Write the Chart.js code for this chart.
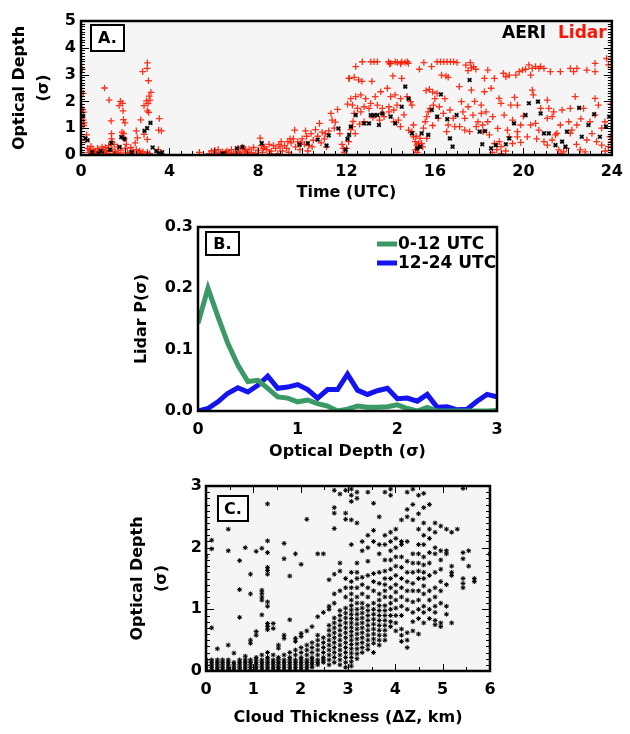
<!DOCTYPE html>
<html>
<head>
<meta charset="utf-8">
<script src="https://cdn.jsdelivr.net/npm/chart.js@4.4.0/dist/chart.umd.min.js"></script>
<style>
  body { margin: 0; background: #fff; width: 630px; height: 734px; position: relative; overflow: hidden; }
  canvas { position: absolute; left: 0; }
</style>
</head>
<body>
<canvas id="chartA" width="630" height="205" style="top:0px"></canvas>
<canvas id="chartB" width="630" height="265" style="top:205px"></canvas>
<canvas id="chartC" width="630" height="264" style="top:470px"></canvas>
<script>
// panel A : optical depth vs time, [hour UTC, sigma]
var lidarEarly = [
  [0.05,3.2],[0.1,2.3],[0.08,1.7],[0.12,1.6],[0.1,1.3],[0.15,1.2],[0.12,1.1],[0.25,0.75],[0.2,0.55],
  [0.3,0.25],[0.35,0.1],[0.4,0.18],[0.5,0.05],[0.55,0.2],[0.65,0.1],[0.7,0.02],[0.8,0.15],[0.9,0.05],
  [1.0,0.2],[1.05,0.1],[1.1,0.28],[1.2,0.05],[1.3,0.15],[1.4,0.22],[1.45,0.05],[1.55,0.12],[1.65,0.3],
  [1.7,0.08],[1.8,0.18],[1.9,0.02],[2.0,0.25],[2.1,0.1],[2.2,0.05],[2.3,0.15],[2.4,0.02],[2.5,0.2],
  [2.6,0.1],[2.7,0.05],[2.8,0.12],[2.9,0.02],[3.0,0.1],[3.6,0.02],[0.45,0.32],[0.95,0.3],[1.25,0.35],
  [1.5,0.4],[2.05,0.4],[0.6,0.12],[0.75,0.25],[1.15,0.15],[1.6,0.05],[2.25,0.28],[2.65,0.15],[3.1,0.05],
  [1.06,2.5],[1.27,2.05],[1.36,1.27],[1.38,0.8],[1.38,0.6],[1.4,0.5],[1.78,2.0],[1.88,1.93],[1.72,1.84],
  [1.9,1.65],[1.92,1.32],[1.99,1.2],[1.85,0.85],[1.93,0.8],[1.96,0.6],[2.5,0.9],[2.55,0.64],[2.45,0.45],
  [2.7,1.31],[2.79,3.11],[2.85,1.84],[2.85,0.77],[2.96,2.02],[2.99,3.23],[3.0,3.44],[3.0,1.65],[3.0,0.58],
  [3.03,1.92],[3.05,2.77],[3.06,1.59],[3.08,2.2],[3.12,2.05],[3.16,2.34],[3.54,1.36],[3.51,0.93],[3.64,0.9],
  [3.5,0.2],[5.35,0.1]
];
var lidarMorning = [
  [5.8,0.05],[5.9,0.15],[6.0,0.02],[6.1,0.1],[6.2,0.2],[6.3,0.05],[6.4,0.12],[6.5,0.02],[6.6,0.15],
  [6.7,0.08],[6.8,0.2],[6.9,0.05],[7.0,0.12],[7.1,0.25],[7.2,0.1],[7.3,0.3],[7.4,0.15],[7.5,0.05],
  [7.6,0.22],[7.7,0.1],[7.8,0.28],[7.9,0.05],[8.0,0.18],[8.1,0.63],[8.15,0.35],[8.2,0.1],[8.3,0.3],
  [8.4,0.2],[8.5,0.4],[8.6,0.15],[8.7,0.35],[8.8,0.25],[8.9,0.05],[9.0,0.3],[9.05,0.5],[9.1,0.15],
  [9.2,0.35],[9.3,0.25],[9.4,0.1],[9.5,0.45],[9.6,0.6],[9.66,0.93],[9.7,0.3],[9.8,0.5],[9.9,0.2],
  [10.0,0.6],[10.1,0.4],[10.15,0.9],[10.2,0.7],[10.3,0.35],[10.4,0.8],[10.5,0.55],[10.6,0.95],[10.7,0.7],
  [10.78,1.18],[10.85,0.45],[10.9,0.85],[11.0,0.6],[11.1,0.3],[11.2,0.9],[11.3,1.55],[11.35,1.3],
  [11.5,1.23],[11.6,1.7],[11.7,0.8],[11.8,0.4],[11.9,0.1],[12.0,0.25],[12.05,1.9],[12.12,2.86],[12.1,0.5],
  [10.25,0.15],[8.55,0.05],[9.45,0.6],[6.05,0.18],[6.55,0.1],[7.15,0.05],[7.45,0.2],[8.25,0.25],[8.95,0.4],
  [9.35,0.5],[9.95,0.45],[10.45,0.3],[11.05,0.8],[11.45,1.0],[11.85,0.25]
];
var lidarAfternoon = [
  [12.42,3.3],[12.72,3.48],[13.1,3.48],[13.25,3.48],[13.4,3.48],[13.9,3.48],[14.3,3.45],[14.45,3.4],
  [14.5,3.48],[14.65,3.45],[14.75,3.48],[14.8,3.42],[15.5,3.45],[15.85,3.3],[16.1,3.48],[16.25,3.48],
  [16.4,3.48],[16.55,3.48],[16.7,3.48],[16.85,3.48],[17.0,3.45],[17.4,3.35],[17.6,3.45],[17.65,3.25],
  [17.75,3.3],[17.5,3.15],[17.85,3.2],[14.0,3.42],[14.2,3.48],[13.95,3.4],
  [12.12,2.86],[12.35,2.9],[12.55,2.8],[12.7,2.75],[13.15,2.75],[14.5,2.86],[15.6,2.4],[15.75,2.45],
  [15.9,2.35],[16.3,2.98],[16.5,2.95],[16.6,2.9],[17.1,2.55],[17.65,2.42],[14.1,2.95],[15.3,3.2],
  [12.2,2.1],[12.42,2.18],[12.65,2.24],[12.87,2.1],[13.1,1.93],[13.3,2.18],[13.55,2.36],[13.85,2.49],
  [14.0,2.18],[14.2,2.24],[14.45,2.1],[14.74,2.18],[14.9,1.99],[14.96,1.86],[12.27,1.86],[12.5,1.74],
  [12.8,1.8],[13.02,1.74],[13.4,1.86],[13.62,1.74],[13.92,1.8],[14.14,1.68],[14.29,1.86],
  [12.35,1.55],[12.65,1.61],[13.62,1.55],[13.92,1.61],[13.7,1.43],[14.14,1.24],[12.8,1.24],[12.27,1.06],
  [14.44,1.06],[12.2,0.95],[12.3,1.25],[12.4,0.8],[12.6,1.15],[13.2,1.4],[13.5,1.3],[14.6,1.5],[14.35,1.3],
  [14.96,0.87],[15.03,0.68],[15.11,0.5],[15.18,0.37],[15.26,0.43],[15.33,0.62],[15.48,1.0],[15.56,1.24],
  [15.63,1.43],[15.7,1.61],[15.78,1.74],[15.93,1.86],[16.0,2.1],[16.15,1.37],[16.38,1.55],[16.68,1.68],
  [16.83,1.37],[17.2,1.99],[17.27,1.61],[17.35,1.37],[17.5,1.8],[17.72,1.49],[17.95,1.24],[18.1,1.55],
  [18.17,0.87],[17.87,1.06],[16.53,0.87],[16.6,1.12],[16.9,1.06],[17.12,1.06],[17.35,0.93],[17.57,0.87],
  [15.63,0.62],[15.4,0.43],[15.03,1.12],[14.81,0.93],[15.11,0.19],[15.2,0.1],[15.25,0.25],[15.45,0.3],
  [15.15,0.7],[16.2,1.8],[16.45,2.1],[16.1,2.3],[17.8,2.0],[15.9,1.1]
];
var lidarEvening = [
  [18.39,3.17],[18.69,2.86],[18.24,2.86],[19.21,2.92],[19.36,2.98],[19.66,2.98],[19.81,3.11],[19.96,3.17],
  [20.25,3.36],[20.4,3.23],[20.55,3.3],[20.7,3.23],[20.78,3.3],[20.93,3.23],[20.33,2.98],[21.22,3.11],
  [21.67,3.11],[22.12,3.23],[22.27,3.11],[22.42,3.23],[22.87,3.17],[23.24,3.42],[23.24,3.11],[23.76,3.6],
  [23.84,3.36],[19.1,3.05],[20.1,3.2],
  [18.54,2.49],[18.24,2.36],[18.9,2.11],[18.99,1.93],[19.43,1.86],[19.73,1.86],[20.4,2.42],[20.45,2.24],
  [21.08,2.05],[20.78,1.74],[21.15,1.74],[21.37,1.61],[21.75,1.68],[22.12,1.74],[22.34,2.18],[22.72,1.74],
  [23.24,2.11],[23.39,1.86],[18.09,1.86],[18.31,1.61],[19.6,2.15],[23.95,1.9],
  [18.39,1.24],[18.61,1.43],[19.13,1.49],[19.51,1.3],[21.08,1.37],[21.3,1.43],[21.67,1.12],[19.88,1.12],
  [20.33,1.12],[22.05,1.24],[22.42,1.12],[23.24,1.49],[23.54,1.0],[23.69,1.24],[23.01,1.24],[18.16,1.12],
  [18.84,0.99],[19.28,0.93],[19.73,0.87],[20.55,1.18],[20.7,0.93],[21.52,0.81],[20.0,1.45],[22.6,1.35],
  [18.46,0.75],[18.69,0.43],[18.91,0.5],[18.99,0.31],[19.36,0.68],[19.51,0.43],[19.73,0.68],[20.93,0.5],
  [21.08,0.37],[21.3,0.56],[21.6,0.19],[21.82,0.12],[21.45,0.75],[22.12,0.81],[22.57,0.19],[22.79,0.12],
  [22.87,0.56],[23.54,0.37],[23.84,0.31],[23.91,0.68],[20.18,0.68],[19.88,0.47],[22.19,0.93],[23.31,0.5],
  [18.6,0.1],[18.8,0.2],[19.0,0.05],[19.2,0.15],[21.7,0.05],[21.95,0.25],[23.7,0.15],[24.0,0.5],
  [20.6,0.6],[22.4,0.4],[23.1,0.8]
];
var aeri = [
  [0.2,0.62],[0.3,0.55],[0.1,1.45],[0.5,0.1],[0.8,0.05],[0.9,0.15],[1.3,0.2],[1.37,0.45],[1.75,0.3],
  [1.82,0.67],[1.97,0.6],[2.3,0.1],[2.87,0.9],[2.99,1.0],[3.14,1.2],[3.24,0.28],[3.4,0.15],[3.5,0.05],
  [3.67,0.1],[6.4,0.05],[7.05,0.25],[7.3,0.3],[8.17,0.44],[9.88,0.39],[10.25,0.44],[10.7,0.57],[11.1,0.35],
  [11.2,0.73],[11.64,0.99],[11.97,0.2],[12.05,0.6],
  [12.12,0.75],[12.2,1.06],[12.42,1.49],[12.8,1.18],[13.02,1.18],[13.1,1.49],[13.25,1.49],[13.4,1.49],
  [13.47,1.12],[13.62,1.55],[14.0,1.43],[14.21,1.18],[14.5,1.8],[14.66,2.55],[14.81,2.1],[14.96,0.81],
  [15.2,0.25],[15.33,0.31],[15.4,0.81],[15.7,0.75],[15.86,1.68],[16.1,1.43],[16.27,2.26],[16.56,1.34],
  [16.68,0.62],[16.8,0.31],[16.98,1.49],[17.57,2.8],[18.02,0.87],[18.14,0.4],[18.27,0.89],[18.54,0.25],
  [18.76,0.37],[19.21,0.4],[19.36,0.62],[19.58,1.18],[20.1,1.49],[20.25,1.93],[20.66,1.99],[20.78,1.55],
  [20.93,0.81],[21.15,0.81],[21.45,0.37],[21.75,0.5],[21.9,0.31],[21.97,0.87],[22.52,1.76],[22.64,0.68],
  [22.94,1.12],[23.2,1.52],[23.46,0.68],[23.73,1.06],[23.88,1.43]
];

// panel B : lidar probability of optical depth
var depthBins = [0,0.1,0.2,0.3,0.4,0.5,0.6,0.7,0.8,0.9,1.0,1.1,1.2,1.3,1.4,1.5,1.6,1.7,1.8,1.9,2.0,
                 2.1,2.2,2.3,2.4,2.5,2.6,2.7,2.8,2.9,3.0];
var probEarly = [0.143,0.2,0.154,0.11,0.075,0.048,0.05,0.037,0.023,0.021,0.015,0.018,0.012,0.008,0.0,
                 0.003,0.008,0.006,0.006,0.007,0.01,0.004,0.0,0.006,0.0,0.0,0.0,0.0,0.0,0.0,0.001];
var probLate = [0.0,0.004,0.015,0.029,0.038,0.031,0.042,0.057,0.037,0.039,0.043,0.035,0.021,0.035,0.035,
                0.06,0.034,0.027,0.033,0.037,0.02,0.021,0.016,0.027,0.006,0.007,0.002,0.003,0.016,0.027,0.023];

// panel C : optical depth by cloud thickness column (km)
var thickCols = [0,0.12,0.24,0.35,0.47,0.59,0.71,0.83,0.94,1.06,1.18,1.3,1.42,1.53,1.65,1.77,1.89,2.01,
                 2.13,2.24,2.36,2.48,2.6,2.71,2.83,2.95,3.07,3.19,3.3,3.42,3.54,3.66,3.78,3.9,4.01,4.13,
                 4.25,4.37,4.49,4.6,4.72,4.84,4.96,5.08,5.19,5.31,5.43,5.55,5.67,6.0];
var depthCols = [
  [0.02,0.06,0.1,0.14,0.18,1.85],
  [0.02,0.06,0.1,0.14,0.18,0.7,1.98,2.12],
  [0.02,0.06,0.1,0.14,0.18,0.36],
  [0.02,0.06,0.1,0.14,0.18],
  [0.02,0.06,0.1,0.14,0.18,0.42,1.95,2.3],
  [0.02,0.06,0.1,0.14,0.29],
  [0.02,0.06,0.1,0.14,0.18,0.87,1.32,1.79],
  [0.02,0.06,0.1,0.14,0.18,0.24,2.0],
  [0.02,0.06,0.1,0.14,0.18,0.45,0.5,1.25,1.57],
  [0.02,0.06,0.1,0.14,0.18,0.22,0.58,0.64,1.94],
  [0.02,0.06,0.1,0.14,0.18,0.26,0.91,1.15,1.2,1.26,1.31,1.99],
  [0.02,0.06,0.1,0.14,0.18,0.22,0.3,0.67,0.72,0.77,1.05,1.12,1.57,1.63,1.68,1.92,2.11,2.71],
  [0.02,0.06,0.1,0.14,0.18,0.26,0.69,0.77],
  [0.02,0.06,0.1,0.14,0.18,0.22,0.37,0.42],
  [0.02,0.06,0.1,0.14,0.18,0.26,0.53,0.58,1.82,2.07],
  [0.02,0.06,0.1,0.14,0.18,0.22,0.3,0.83,1.54],
  [0.02,0.06,0.1,0.14,0.18,0.26,0.34,0.48,0.53,1.9],
  [0.02,0.06,0.1,0.14,0.18,0.22,0.3,0.38,0.56,0.61,1.73],
  [0.02,0.06,0.1,0.14,0.18,0.26,0.34,0.42,0.65,2.46],
  [0.06,0.1,0.14,0.18,0.22,0.3,0.38,0.46,0.72],
  [0.1,0.14,0.18,0.26,0.34,0.42,0.5,0.58,0.88,1.9],
  [0.14,0.18,0.22,0.3,0.38,0.46,0.54,0.95,1.9],
  [0.1,0.18,0.26,0.34,0.42,0.5,0.58,0.66,0.74,1.0,1.05,1.48],
  [0.14,0.22,0.3,0.38,0.46,0.54,0.62,0.7,0.78,0.86,1.1,1.25,1.57,2.31,2.56,2.65,2.93],
  [0.1,0.18,0.26,0.34,0.42,0.5,0.58,0.66,0.74,0.82,0.9,0.98,1.3,1.62,1.75,2.87],
  [0.06,0.14,0.22,0.3,0.38,0.46,0.54,0.62,0.7,0.78,0.86,0.94,1.02,1.2,1.35,1.5,2.46,2.56,2.93],
  [0.08,0.15,0.22,0.29,0.36,0.43,0.5,0.57,0.64,0.71,0.78,0.85,0.92,0.99,1.06,1.15,1.25,1.35,1.45,1.6,
   2.05,2.45,2.75,2.85,2.95],
  [0.2,0.28,0.36,0.44,0.52,0.6,0.68,0.76,0.84,0.92,1.0,1.1,1.2,1.35,1.5,1.6,1.75,2.4,2.8,2.9],
  [0.3,0.38,0.46,0.54,0.62,0.7,0.78,0.86,0.94,1.02,1.1,1.25,1.4,1.52,1.95,2.1],
  [0.35,0.42,0.5,0.58,0.66,0.74,0.82,0.9,0.98,1.06,1.2,1.35,1.55,1.78,2.0,2.2,2.9],
  [0.3,0.45,0.52,0.6,0.68,0.76,0.84,0.92,1.0,1.1,1.3,1.45,1.58,2.1,2.28,2.72],
  [0.42,0.5,0.58,0.66,0.74,0.82,0.9,0.98,1.06,1.15,1.25,1.42,1.6,1.9,2.05,2.5],
  [0.5,0.58,0.66,0.74,0.82,0.9,0.98,1.06,1.2,1.3,1.4,1.5,1.62,1.8,2.05,2.2,2.9],
  [0.72,0.8,0.9,1.0,1.1,1.2,1.35,1.5,1.65,1.8,1.95,2.1,2.25,2.85,2.95],
  [0.65,0.78,0.9,1.02,1.15,1.28,1.4,1.55,1.7,1.85,2.0,2.15,2.3],
  [0.48,0.58,0.68,0.9,1.05,1.2,1.35,1.5,1.68,1.85,2.05,2.1,2.45],
  [0.38,0.5,0.62,1.0,1.15,1.3,1.45,1.6,1.78,2.1,2.5,2.62,2.9],
  [0.65,0.8,0.95,1.12,1.3,1.42,1.6,1.75,1.9,2.45,2.7,2.95],
  [0.6,0.85,1.0,1.15,1.3,1.5,1.62,1.75,1.9,2.05,2.3,2.55,2.85],
  [0.78,0.95,1.05,1.25,1.38,1.5,1.6,1.72,1.85,2.05,2.2,2.4,2.65,2.88],
  [0.85,1.0,1.15,1.3,1.55,1.75,1.92,2.15,2.3,2.7],
  [0.75,0.82,0.95,1.05,1.2,1.35,1.6,1.9,2.0,2.25,2.4],
  [0.72,0.78,1.1,1.3,1.45,1.65,1.8,1.95,2.35],
  [0.92,1.05,1.4,1.9,1.95,2.3],
  [0.78,1.55,1.6,1.7,2.25],
  [2.3],
  [1.35,1.42,1.5,1.82,1.92,2.96],
  [1.7,1.95],
  [1.45,1.5],
  [1.9]
];

Chart.defaults.font.family = "'DejaVu Sans', sans-serif";
Chart.defaults.font.weight = 'bold';
Chart.defaults.font.size = 16;
Chart.defaults.color = '#000';

function toXY(pairs) {
  return pairs.map(function (p) { return { x: p[0], y: p[1] }; });
}

var lidarAll = lidarEarly.concat(lidarMorning, lidarAfternoon, lidarEvening);
var cloudPts = [];
thickCols.forEach(function (dz, i) {
  depthCols[i].forEach(function (od) { cloudPts.push({ x: dz, y: od }); });
});

// frame, inner ticks, panel letter, legend
var panelDeco = {
  id: 'panelDeco',
  beforeDatasetsDraw: function (chart, args, o) {
    var a = chart.chartArea, ctx = chart.ctx;
    if (o.bg) {
      ctx.save();
      ctx.fillStyle = o.bg;
      ctx.fillRect(a.left, a.top, a.right - a.left, a.bottom - a.top);
      ctx.restore();
    }
  },
  afterDraw: function (chart, args, o) {
    var a = chart.chartArea, ctx = chart.ctx;
    var xs = chart.scales.x, ys = chart.scales.y;
    ctx.save();
    ctx.strokeStyle = '#000';
    ctx.lineWidth = 1;
    ctx.beginPath();
    if (o.yTicks) {
      var t = o.yTicks, n = Math.round((ys.max - ys.min) / t.step);
      for (var i = 0; i <= n; i++) {
        var py = Math.round(ys.getPixelForValue(ys.min + i * t.step)) + 0.5;
        var len = i % t.every === 0 ? 8 : 4;
        ctx.moveTo(a.left, py); ctx.lineTo(a.left + len, py);
        ctx.moveTo(a.right, py); ctx.lineTo(a.right - len, py);
      }
    }
    if (o.xTicks) {
      var u = o.xTicks, m = Math.round((xs.max - xs.min) / u.step);
      for (var j = 0; j <= m; j++) {
        var px = Math.round(xs.getPixelForValue(xs.min + j * u.step)) + 0.5;
        var l2 = j % u.every === 0 ? 7 : 4;
        ctx.moveTo(px, a.bottom); ctx.lineTo(px, a.bottom - l2);
        if (u.top) { ctx.moveTo(px, a.top); ctx.lineTo(px, a.top + l2); }
      }
    }
    ctx.stroke();

    ctx.lineWidth = 2.5;
    ctx.strokeRect(a.left, a.top, a.right - a.left, a.bottom - a.top);

    if (o.letter) {
      var b = o.letter;
      ctx.fillStyle = '#fff';
      ctx.fillRect(b.x, b.y, b.w, b.h);
      ctx.lineWidth = 2;
      ctx.strokeRect(b.x, b.y, b.w, b.h);
      ctx.fillStyle = '#000';
      ctx.font = "bold 16px 'DejaVu Sans'";
      ctx.textAlign = 'center';
      ctx.textBaseline = 'middle';
      ctx.fillText(b.text, b.x + b.w / 2, b.y + b.h / 2 + 1);
    }

    if (o.notes) {
      ctx.font = "bold 17px 'DejaVu Sans'";
      ctx.textAlign = 'left';
      ctx.textBaseline = 'middle';
      o.notes.forEach(function (nt) {
        ctx.fillStyle = nt.color;
        ctx.fillText(nt.text, nt.x, nt.y);
      });
    }

    if (o.legend) {
      var lg = o.legend;
      ctx.font = "bold 17px 'DejaVu Sans'";
      ctx.textAlign = 'left';
      ctx.textBaseline = 'middle';
      chart.data.datasets.forEach(function (ds, k) {
        var yy = lg.y[k];
        ctx.strokeStyle = ds.borderColor;
        ctx.lineWidth = 5;
        ctx.beginPath();
        ctx.moveTo(lg.x0, yy); ctx.lineTo(lg.x1, yy);
        ctx.stroke();
        ctx.fillStyle = '#000';
        ctx.fillText(ds.label, lg.x1 + 1, yy + 1);
      });
    }
    ctx.restore();
  }
};

function axisCommon(extra) {
  var base = {
    type: 'linear',
    grid: { display: false, drawTicks: false },
    border: { display: false }
  };
  return Object.assign(base, extra);
}

// ---- panel A
new Chart(document.getElementById('chartA'), {
  type: 'scatter',
  data: {
    datasets: [
      { label: 'AERI', data: toXY(aeri), pointStyle: 'crossRot', pointRadius: 2.5,
        borderColor: '#000', borderWidth: 1.6 },
      { label: 'AERI shade', data: toXY(aeri), pointStyle: 'rect', pointRadius: 3.3,
        backgroundColor: 'rgba(0,0,0,0.22)', borderWidth: 0 },
      { label: 'Lidar', data: toXY(lidarAll), pointStyle: 'cross', pointRadius: 3.3,
        borderColor: 'rgba(255,25,0,0.9)', borderWidth: 1.3 }
    ]
  },
  options: {
    responsive: false,
    animation: false,
    events: [],
    layout: { padding: { top: 21, right: 13, left: 0, bottom: 0 } },
    plugins: {
      legend: { display: false },
      tooltip: { enabled: false },
      panelDeco: {
        bg: '#f5f5f5',
        yTicks: { step: 0.1, every: 10 },
        xTicks: { step: 0.5, every: 4 },
        letter: { text: 'A.', x: 91, y: 25, w: 33, h: 26 },
        notes: [{ text: 'AERI', x: 502, y: 34, color: '#000' }, { text: 'Lidar', x: 558, y: 34, color: '#ff1400' }]
      }
    },
    scales: {
      x: axisCommon({
        min: 0, max: 24,
        afterFit: function (s) { s.height = 50; },
        ticks: { stepSize: 4, padding: 7 },
        title: { display: true, text: 'Time (UTC)', padding: { top: 0, bottom: 3 } }
      }),
      y: axisCommon({
        min: 0, max: 5,
        afterFit: function (s) { s.width = 81; },
        ticks: { stepSize: 1, padding: 5 },
        title: { display: true, text: ['Optical Depth', '(σ)'], font: { lineHeight: 1.5 },
                 padding: { top: 8, bottom: 0 } }
      })
    }
  },
  plugins: [panelDeco]
});

// ---- panel B
new Chart(document.getElementById('chartB'), {
  type: 'scatter',
  data: {
    datasets: [
      { label: '0-12 UTC', data: depthBins.map(function (x, i) { return { x: x, y: probEarly[i] }; }),
        showLine: true, pointRadius: 0, borderColor: '#3a9a66', borderWidth: 5 },
      { label: '12-24 UTC', data: depthBins.map(function (x, i) { return { x: x, y: probLate[i] }; }),
        showLine: true, pointRadius: 0, borderColor: '#1414f0', borderWidth: 5 }
    ]
  },
  options: {
    responsive: false,
    animation: false,
    events: [],
    layout: { padding: { top: 22, right: 133, left: 120, bottom: 0 } },
    plugins: {
      legend: { display: false },
      tooltip: { enabled: false },
      panelDeco: {
        letter: { text: 'B.', x: 206, y: 27, w: 33, h: 23 },
        legend: { x0: 377, x1: 397, y: [39, 58] }
      }
    },
    scales: {
      x: axisCommon({
        min: 0, max: 3,
        afterFit: function (s) { s.height = 59; },
        ticks: { stepSize: 1, padding: 9 },
        title: { display: true, text: 'Optical Depth (σ)', padding: { top: 0, bottom: 9 } }
      }),
      y: axisCommon({
        min: 0, max: 0.3,
        afterFit: function (s) { s.width = 78; },
        ticks: { stepSize: 0.1, padding: 5, callback: function (v) { return v.toFixed(1); } },
        title: { display: true, text: 'Lidar P(σ)', padding: { top: 12, bottom: 0 } }
      })
    }
  },
  plugins: [panelDeco]
});

// ---- panel C
new Chart(document.getElementById('chartC'), {
  type: 'scatter',
  data: {
    datasets: [
      { label: 'clouds', data: cloudPts, pointStyle: 'star', pointRadius: 2.4,
        borderColor: '#000', borderWidth: 1.0 },
      { label: 'clouds shade', data: cloudPts, pointStyle: 'rect', pointRadius: 2.8,
        backgroundColor: 'rgba(0,0,0,0.15)', borderWidth: 0 }
    ]
  },
  options: {
    responsive: false,
    animation: false,
    events: [],
    layout: { padding: { top: 16, right: 140, left: 114, bottom: 0 } },
    plugins: {
      legend: { display: false },
      tooltip: { enabled: false },
      panelDeco: {
        bg: '#f5f5f5',
        yTicks: { step: 0.1, every: 10 },
        xTicks: { step: 0.5, every: 2, top: true },
        letter: { text: 'C.', x: 218, y: 26, w: 30, h: 25 }
      }
    },
    scales: {
      x: axisCommon({
        min: 0, max: 6,
        afterFit: function (s) { s.height = 63; },
        ticks: { stepSize: 1, padding: 9 },
        title: { display: true, text: 'Cloud Thickness (ΔZ, km)', padding: { top: 0, bottom: 7 } }
      }),
      y: axisCommon({
        min: 0, max: 3,
        afterFit: function (s) { s.width = 92; },
        ticks: { stepSize: 1, padding: 4 },
        title: { display: true, text: ['Optical Depth', '(σ)'], font: { lineHeight: 1.5 },
                 padding: { top: 12, bottom: 0 } }
      })
    }
  },
  plugins: [panelDeco]
});
</script>
</body>
</html>
